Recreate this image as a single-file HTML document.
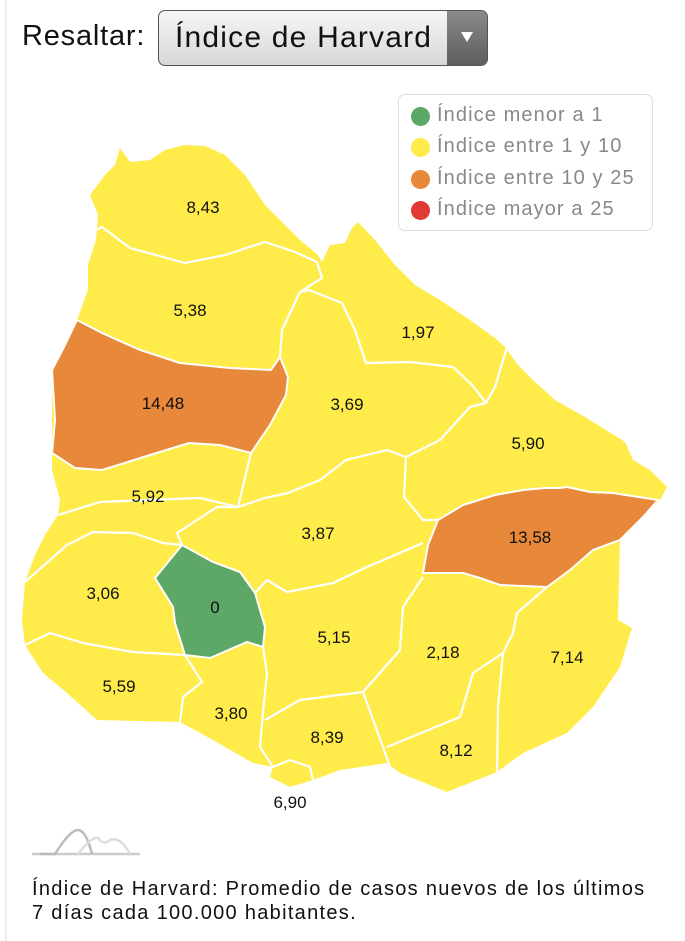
<!DOCTYPE html>
<html><head><meta charset="utf-8"><style>
body{margin:0;width:685px;height:941px;background:#fff;font-family:"Liberation Sans",sans-serif;position:relative;overflow:hidden}
.lbl{position:absolute;left:22px;top:20px;font-size:29px;color:#111;letter-spacing:0.8px}
.sel{position:absolute;left:158px;top:10px;width:330px;height:56px;box-sizing:border-box;border:1px solid #555;border-radius:7px;background:linear-gradient(#f6f6f6,#d8d8d8);overflow:hidden}
.sel span{position:absolute;left:16px;top:10px;font-size:30px;color:#111;letter-spacing:1.2px}
.sel .ar{position:absolute;right:0;top:0;width:40px;height:100%;background:linear-gradient(#8a8a8a,#5e5e5e)}
.sel .ar:after{content:"";position:absolute;left:14px;top:21px;border-left:6px solid transparent;border-right:6px solid transparent;border-top:10px solid #fff}
.leg{position:absolute;left:398px;top:94px;width:255px;height:137px;box-sizing:border-box;border:1.5px solid #ddd;border-radius:7px}
.leg div{position:absolute;left:38px;font-size:20px;color:#888;letter-spacing:1.1px;white-space:nowrap}
.leg i{position:absolute;left:-26px;top:3px;width:19px;height:19px;border-radius:50%}
.foot{position:absolute;left:32px;top:877px;font-size:20px;line-height:24px;color:#111;letter-spacing:1.3px;white-space:nowrap}
</style></head><body>
<div style="position:absolute;left:5px;top:0;width:2px;height:941px;background:#eee"></div>
<div class="lbl">Resaltar:</div>
<div class="sel"><span>Índice de Harvard</span><div class="ar"></div></div>
<svg width="685" height="941" style="position:absolute;left:0;top:0">
<path fill="#ffec4b" d="M120,148 L130,162 L150,160 L165,150 L185,145 L205,146 L225,155 L245,175 L265,205 L285,225 L300,240 L318,255 L322,262 L330,245 L345,243 L352,228 L358,222 L375,240 L395,265 L415,285 L440,300 L470,320 L495,338 L505,347 L518,365 L535,382 L555,400 L590,420 L625,442 L633,460 L650,470 L667,487 L660,500 L643,517 L620,540 L618,620 L632,628 L620,667 L593,707 L567,733 L523,753 L497,772 L447,792 L400,773 L387,763 L340,770 L313,780 L290,787 L270,777 L273,767 L253,763 L213,740 L180,722 L97,720 L67,693 L43,673 L25,645 L22,620 L25,582 L35,555 L45,535 L58,515 L60,500 L52,470 L52,453 L52,410 L52,370 L65,350 L77,320 L88,290 L88,265 L96,240 L98,215 L90,195 L105,175 L115,165Z"/>
<g fill="none" stroke="#fff" stroke-width="2.2" stroke-linejoin="round">
<path d="M96,230 L102,227 L130,248 L185,263 L225,255 L265,242 L295,252 L317,262 L322,278 L300,292 L282,330 L280,357"/>
<path d="M300,292 L309,290 L342,303 L355,330 L366,363 L410,362 L453,367 L472,385 L486,403 L495,387 L507,347"/>
<path d="M251,453 L238,507 L265,498 L288,493 L320,480 L346,460 L387,450 L406,457 L440,440 L470,407 L486,403"/>
<path d="M406,457 L404,497 L423,520 L438,520"/>
<path d="M58,515 L100,502 L150,500 L200,498 L238,507"/>
<path d="M25,582 L67,545 L93,532 L133,533 L163,543 L182,545 L177,533 L217,507 L238,507"/>
<path d="M25,645 L50,633 L83,643 L133,652 L185,655 L202,682 L183,697 L180,722"/>
<path d="M255,593 L267,580 L287,592 L333,583 L367,567 L423,543"/>
<path d="M263,647 L267,673 L263,713 L260,747 L273,767 L290,760 L310,767 L313,780"/>
<path d="M265,720 L300,700 L363,692 L400,650 L403,607 L423,577"/>
<path d="M363,692 L383,747 L390,767"/>
<path d="M547,587 L517,613 L513,633 L503,653 L498,707 L497,772"/>
<path d="M503,653 L473,673 L460,717 L387,747"/>
</g>
<path fill="#e8883a" stroke="#fff" stroke-width="2" d="M77,320 L102,333 L140,350 L180,363 L230,368 L271,370 L280,357 L288,377 L286,395 L270,425 L251,453 L220,445 L189,443 L150,455 L102,470 L75,468 L52,453 L55,420 L52,370 L65,345Z"/>
<path fill="#e8883a" stroke="#fff" stroke-width="2" d="M423,573 L428,545 L438,520 L463,505 L495,495 L523,490 L545,488 L560,488 L567,487 L590,492 L613,493 L658,500 L643,517 L620,540 L593,550 L570,570 L547,587 L500,585 L480,578 L463,573Z"/>
<path fill="#5ea867" stroke="#fff" stroke-width="2" d="M182,545 L213,562 L240,572 L255,593 L265,627 L263,647 L247,642 L210,658 L185,655 L175,623 L173,607 L155,578Z"/>
<g font-size="17" fill="#111" text-anchor="middle" font-family="Liberation Sans,sans-serif">
<text x="203" y="213">8,43</text><text x="190" y="316">5,38</text><text x="418" y="338">1,97</text>
<text x="163" y="409">14,48</text><text x="347" y="410">3,69</text><text x="528" y="449">5,90</text>
<text x="148" y="502">5,92</text><text x="318" y="539">3,87</text><text x="530" y="543">13,58</text>
<text x="103" y="599">3,06</text><text x="215" y="613">0</text><text x="334" y="643">5,15</text>
<text x="443" y="658">2,18</text><text x="567" y="663">7,14</text><text x="119" y="692">5,59</text>
<text x="231" y="719">3,80</text><text x="327" y="743">8,39</text><text x="456" y="756">8,12</text>
<text x="290" y="808">6,90</text></g>
<g fill="none" stroke-width="2.5"><path d="M32,854 L140,854" stroke="#ccc"/><path d="M40,854 L55,854 Q70,830 78,830 Q86,830 92,854" stroke="#bbb"/><path d="M78,854 Q92,836 98,838 Q104,846 110,840 Q120,836 130,854" stroke="#ddd"/></g>
</svg>
<div class="leg">
<div style="top:9px"><i style="background:#5ea867"></i>Índice menor a 1</div>
<div style="top:40px"><i style="background:#ffec4b"></i>Índice entre 1 y 10</div>
<div style="top:72px"><i style="background:#e8883a"></i>Índice entre 10 y 25</div>
<div style="top:103px"><i style="background:#e03a35"></i>Índice mayor a 25</div>
</div>
<div class="foot">Índice de Harvard: Promedio de casos nuevos de los últimos<br>7 días cada 100.000 habitantes.</div>
</body></html>
